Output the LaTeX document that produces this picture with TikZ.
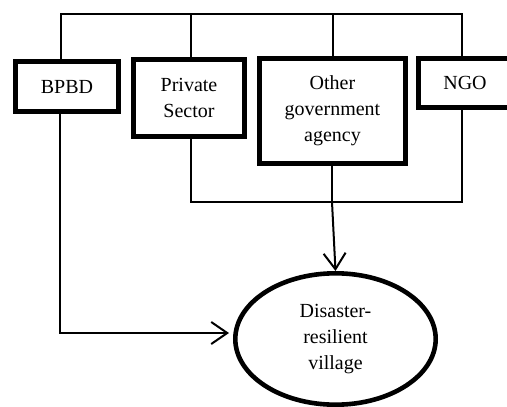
\documentclass[tikz,border=0pt]{standalone}
\usepackage{fontspec}
\setmainfont{Liberation Serif}
\usetikzlibrary{arrows.meta,shapes.geometric}
\begin{document}
\begin{tikzpicture}[x=1pt,y=-1pt,
  txt/.style={font=\fontsize{20}{26}\selectfont, align=center},
  box/.style={txt, draw, line width=4.6pt, inner sep=0pt},
  conn/.style={line width=1.6pt, line join=miter},
  arr/.style={line width=2pt, -{Straight Barb[length=16pt,width=22pt]}}]
\useasboundingbox (0,0) rectangle (507,407);
\node[box, minimum width=103.4pt, minimum height=50.4pt] (bpbd) at (67,86.5) {BPBD};
\node[box, minimum width=111.4pt, minimum height=77.4pt] (ps) at (189,98) {Private\\Sector};
\node[box, minimum width=146.4pt, minimum height=105.4pt] (oga) at (332.5,111) {Other\\government\\agency};
\node[box, minimum width=93.4pt, minimum height=49.4pt] (ngo) at (465,83) {NGO};
\node[txt, ellipse, draw, line width=4.6pt, inner sep=0pt, minimum width=200.4pt, minimum height=131.4pt] (vil) at (335.5,339) {Disaster-\\resilient\\village};
% top bus
\coordinate (t1) at (61,14);
\coordinate (t2) at (191,14);
\coordinate (t3) at (333,14);
\coordinate (t4) at (462,14);
\draw[conn] (bpbd.north -| t1) -- (t1) -- (t4) -- (ngo.north -| t4);
\draw[conn] (ps.north -| t2) -- (t2);
\draw[conn] (oga.north -| t3) -- (t3);
% bottom bus
\coordinate (b2) at (191,202);
\coordinate (b3) at (332,202);
\coordinate (b4) at (462,202);
\draw[conn] (ps.south -| b2) -- (b2) -- (b4) -- (ngo.south -| b4);
\draw[conn] (oga.south -| b3) -- (b3);
\draw[arr] (b3) -- (vil.north);
% BPBD to village
\coordinate (l1) at (60,333);
\coordinate (l2) at (229,333);
\draw[arr] (bpbd.south -| l1) -- (l1) -- (l2);
\end{tikzpicture}
\end{document}
